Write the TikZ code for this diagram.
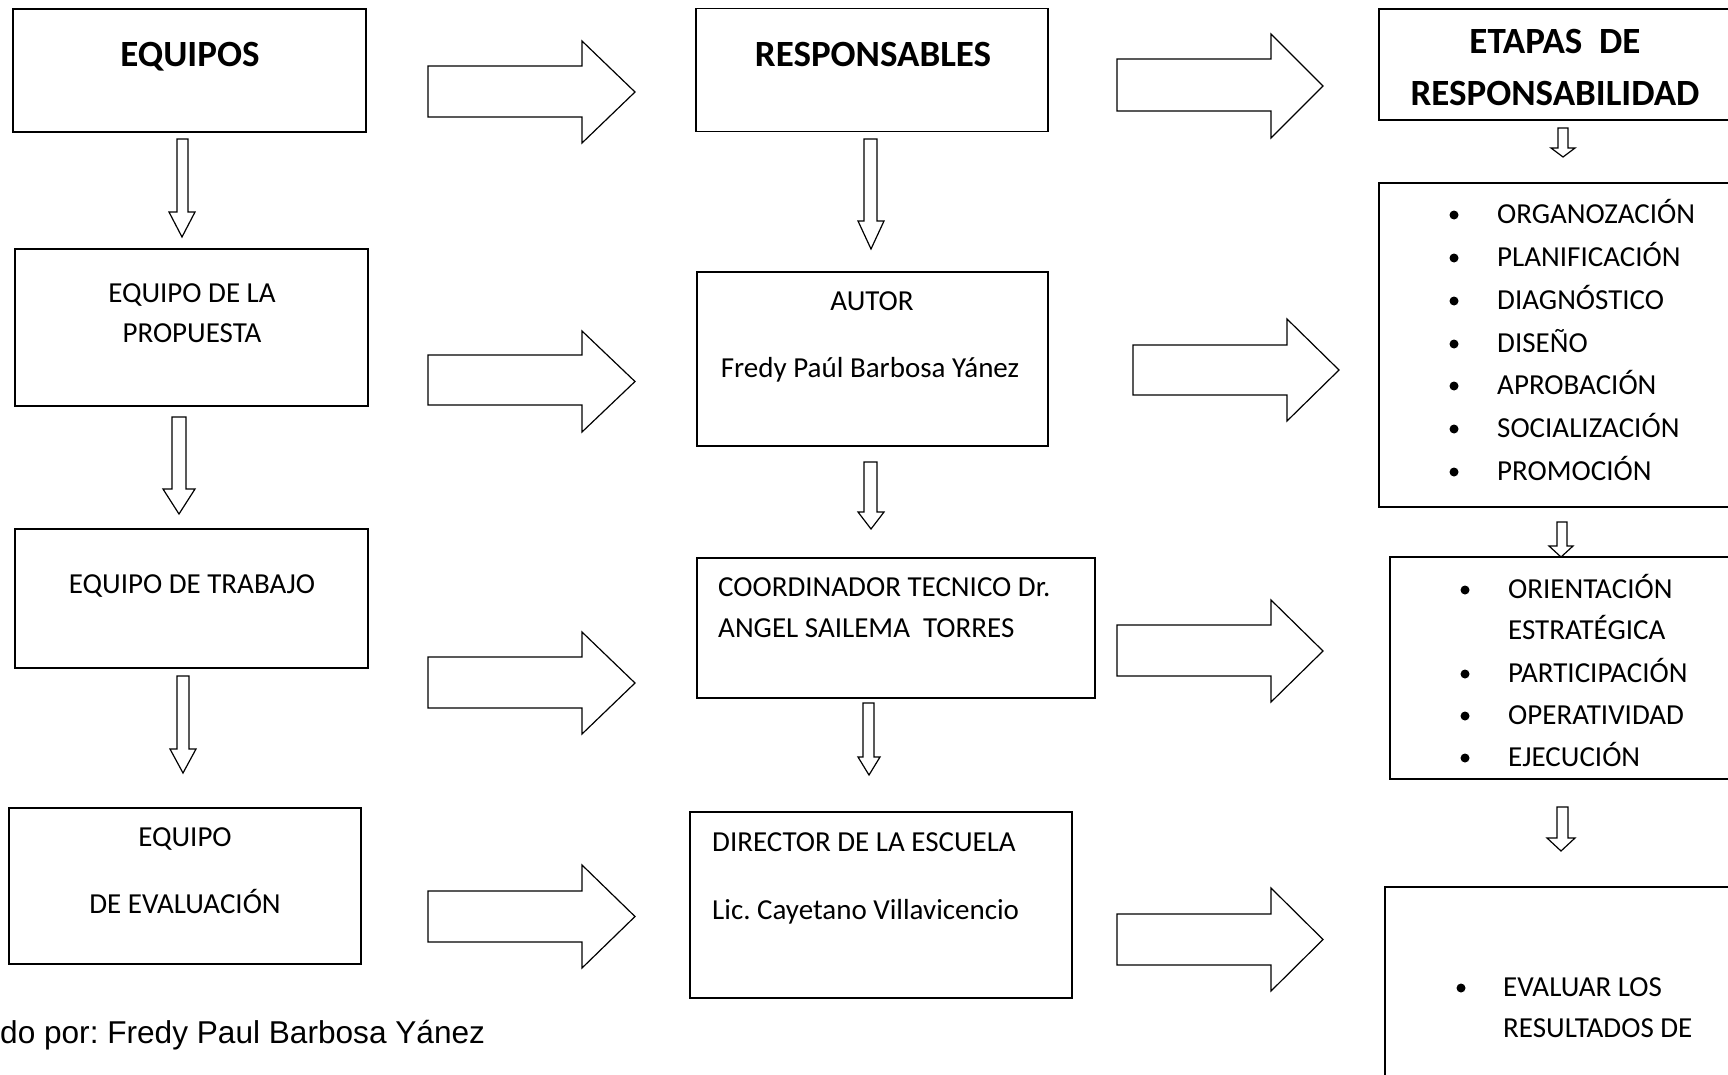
\documentclass[tikz,border=0pt]{standalone}
\usepackage{fontspec}
\setmainfont{Carlito}
\newfontfamily\arialf{Liberation Sans}
\frenchspacing
\tikzset{
  box/.style={draw, line width=1.7pt, inner sep=0pt},
  barrow/.style={draw, line width=1.2pt, fill=white, line join=miter},
  txt/.style={inner sep=0pt, font=\fontsize{29}{35}\selectfont},
  ttl/.style={inner sep=0pt, font=\fontsize{37}{44}\selectfont\bfseries},
  foot/.style={inner sep=0pt, font=\fontsize{31.6}{38}\selectfont\arialf},
  dot/.style={fill=black},
}
% horizontal block arrow: xl, xbase, xtip, shaft y1, shaft y2, head y1, head y2
\newcommand{\harr}[7]{\draw[barrow] (#1,#4) -- (#2,#4) -- (#2,#6) -- (#3,{(#6+#7)/2}) -- (#2,#7) -- (#2,#5) -- (#1,#5) -- cycle;}
% vertical block arrow: shaft x1, shaft x2, ytop, ybase, head x1, head x2, ytip
\newcommand{\varr}[7]{\draw[barrow] (#1,#3) -- (#2,#3) -- (#2,#4) -- (#6,#4) -- ({(#5+#6)/2},#7) -- (#5,#4) -- (#1,#4) -- cycle;}
\begin{document}
\frenchspacing
\begin{tikzpicture}[x=1pt,y=-1pt]
\useasboundingbox (0,0) rectangle (1728,1074);
\clip (0,0) rectangle (1728,1074);
\fill[white] (0,0) rectangle (1728,1074);

% column 1 boxes
\node[box, minimum width=353pt, minimum height=123pt] (b1) at (189.5,70.5) {};
\node[box, minimum width=353pt, minimum height=157pt] (b2) at (191.5,327.5) {};
\node[box, minimum width=353pt, minimum height=139pt] (b3) at (191.5,598.5) {};
\node[box, minimum width=352pt, minimum height=156pt] (b4) at (185,886) {};
% column 2 boxes
\node[box, minimum width=352pt, minimum height=123pt] (c1) at (872,70) {};
\node[box, minimum width=351pt, minimum height=174pt] (c2) at (872.5,359) {};
\node[box, minimum width=398pt, minimum height=140pt] (c3) at (896,628) {};
\node[box, minimum width=382pt, minimum height=186pt] (c4) at (881,905) {};
% column 3 boxes
\node[box, minimum width=354pt, minimum height=111pt] (d1) at (1556,64.5) {};
\node[box, minimum width=354pt, minimum height=324pt] (d2) at (1556,345) {};
\node[box, minimum width=343pt, minimum height=222pt] (d3) at (1561.5,668) {};
\node[box, minimum width=348pt, minimum height=213pt] (d4) at (1559,993.5) {};

% texts column 1
\node[ttl, anchor=base] (tb1) at (190,66) {EQUIPOS};
\node[txt, anchor=base] (tb2a) at (192,302) {EQUIPO DE LA};
\node[txt, anchor=base] (tb2b) at (192,342) {PROPUESTA};
\node[txt, anchor=base] (tb3) at (192,593) {EQUIPO DE TRABAJO};
\node[txt, anchor=base] (tb4a) at (185,846) {EQUIPO};
\node[txt, anchor=base] (tb4b) at (185,913) {DE EVALUACIÓN};
% texts column 2
\node[ttl, anchor=base] (tc1) at (873,66) {RESPONSABLES};
\node[txt, anchor=base] (tc2a) at (872,310) {AUTOR};
\node[txt, anchor=base] (tc2b) at (870,377) {Fredy Paúl Barbosa Yánez};
\node[txt, anchor=base west] (tc3a) at (718,596) {COORDINADOR TECNICO Dr.};
\node[txt, anchor=base west] (tc3b) at (718,637) {ANGEL SAILEMA\ \ TORRES};
\node[txt, anchor=base west] (tc4a) at (712,851) {DIRECTOR DE LA ESCUELA};
\node[txt, anchor=base west] (tc4b) at (712,919) {Lic. Cayetano Villavicencio};
% texts column 3
\node[ttl, anchor=base] (td1a) at (1555,53) {ETAPAS\ \ DE};
\node[ttl, anchor=base] (td1b) at (1555,105) {RESPONSABILIDAD};

\node[txt, anchor=base west] (l1) at (1497,223) {ORGANOZACIÓN};
\node[txt, anchor=base west] (l2) at (1497,266) {PLANIFICACIÓN};
\node[txt, anchor=base west] (l3) at (1497,309) {DIAGNÓSTICO};
\node[txt, anchor=base west] (l4) at (1497,352) {DISEÑO};
\node[txt, anchor=base west] (l5) at (1497,394) {APROBACIÓN};
\node[txt, anchor=base west] (l6) at (1497,437) {SOCIALIZACIÓN};
\node[txt, anchor=base west] (l7) at (1497,480) {PROMOCIÓN};
\foreach \yy in {223,266,309,352,394,437,480} \fill[dot] (1454,\yy-8) circle (4.5pt);

\node[txt, anchor=base west] (m1) at (1508,598) {ORIENTACIÓN};
\node[txt, anchor=base west] (m2) at (1508,639) {ESTRATÉGICA};
\node[txt, anchor=base west] (m3) at (1508,682) {PARTICIPACIÓN};
\node[txt, anchor=base west] (m4) at (1508,724) {OPERATIVIDAD};
\node[txt, anchor=base west] (m5) at (1508,766) {EJECUCIÓN};
\foreach \yy in {598,682,724,766} \fill[dot] (1465,\yy-8) circle (4.5pt);

\node[txt, anchor=base west] (n1) at (1503,996) {EVALUAR LOS};
\node[txt, anchor=base west] (n2) at (1503,1037) {RESULTADOS DE};
\fill[dot] (1461,988) circle (4.5pt);

% footer
\node[foot, anchor=base west] (ft) at (0,1043) {do por: Fredy Paul Barbosa Yánez};

% horizontal block arrows
\harr{428}{582}{635}{66}{117}{41}{143}
\harr{1117}{1271}{1323}{59}{111}{34}{138}
\harr{428}{582}{635}{355}{405}{331}{432}
\harr{1133}{1287}{1339}{345}{395}{319}{421}
\harr{428}{582}{635}{657}{708}{632}{734}
\harr{1117}{1271}{1323}{625}{676}{600}{702}
\harr{428}{582}{635}{891}{942}{865}{968}
\harr{1117}{1271}{1323}{914}{965}{888}{991}

% vertical block arrows
\varr{177}{188}{139}{212}{169}{195}{237}
\varr{172}{186}{417}{489}{163}{195}{514}
\varr{177}{189}{676}{749}{170}{196}{773}
\varr{864}{877}{139}{221}{858}{884}{249}
\varr{864}{877}{462}{512}{858}{884}{529}
\varr{863}{874}{703}{757}{858}{880}{775}
\varr{1558}{1568}{128}{148}{1551}{1575}{157}
\varr{1557}{1567}{522}{546}{1549}{1573}{557}
\varr{1557}{1568}{807}{838}{1547}{1575}{851}
\end{tikzpicture}
\end{document}
